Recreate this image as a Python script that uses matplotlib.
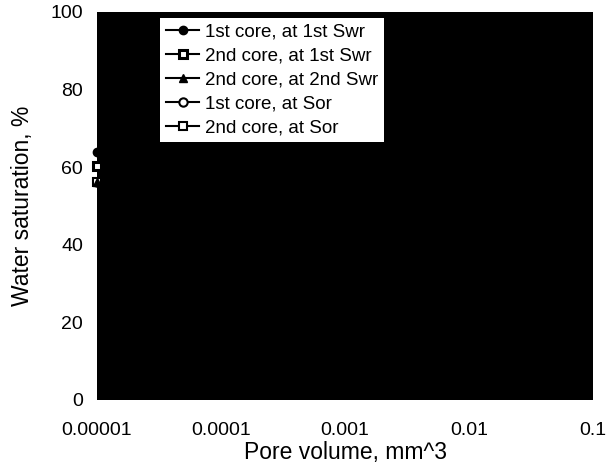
import matplotlib
matplotlib.use("Agg")
import matplotlib.pyplot as plt

plt.rcParams['font.family'] = ['Liberation Sans', 'DejaVu Sans']

series_labels = ["1st core, at 1st Swr", "2nd core, at 1st Swr", "2nd core, at 2nd Swr",
                 "1st core, at Sor", "2nd core, at Sor"]
pore_volume = [1e-5]
s1_1st_swr = [64.0]
s2_1st_swr = [60.3]
s2_2nd_swr = [56.2]
s1_sor = [56.2]
s2_sor = [56.2]
xticks = [1e-5, 1e-4, 1e-3, 1e-2, 1e-1]
xtick_labels = ["0.00001", "0.0001", "0.001", "0.01", "0.1"]
yticks = [0, 20, 40, 60, 80, 100]

fig = plt.figure(figsize=(6.07, 4.68), dpi=100)
ax = fig.add_axes([97/607, 1-400/468, 496/607, 388/468])
ax.set_facecolor('black')

styles = [
    dict(marker='o', mfc='black', mec='black', zorder=3),
    dict(marker='s', mfc='white', mec='black', mew=2.2, zorder=3),
    dict(marker='^', mfc='black', mec='black', zorder=4),
    dict(marker='o', mfc='white', mec='black', mew=1.5, zorder=2),
    dict(marker='s', mfc='white', mec='black', mew=1.5, zorder=3),
]
data = [s1_1st_swr, s2_1st_swr, s2_2nd_swr, s1_sor, s2_sor]
for lab, ys, st in zip(series_labels, data, styles):
    ax.plot(pore_volume, ys, color='black', lw=1.5, ms=6, label=lab,
            clip_on=False, **st)

ax.set_xscale('log')
ax.set_xlim(1e-5, 1e-1)
ax.set_ylim(0, 100)
ax.set_xticks(xticks)
ax.set_xticklabels(xtick_labels)
ax.minorticks_off()
ax.set_yticks(yticks)
ax.tick_params(axis='both', labelsize=14, length=0)
ax.tick_params(axis='x', pad=16)
ax.tick_params(axis='y', pad=10)
for sp in ax.spines.values():
    sp.set_visible(False)

ax.set_xlabel("Pore volume, mm^3", fontsize=16.5, labelpad=1)
ax.set_ylabel("Water saturation, %", fontsize=16.5, labelpad=12)

leg = ax.legend(loc='upper left', bbox_to_anchor=((160-97)/496, (400-18)/388),
                borderaxespad=0, fancybox=False, framealpha=1, edgecolor='black',
                fontsize=13.5, handlelength=1.8, handletextpad=0.3,
                labelspacing=0.36, borderpad=0.3)
leg.get_frame().set_linewidth(0)

fig.savefig("out.png", dpi=100)
